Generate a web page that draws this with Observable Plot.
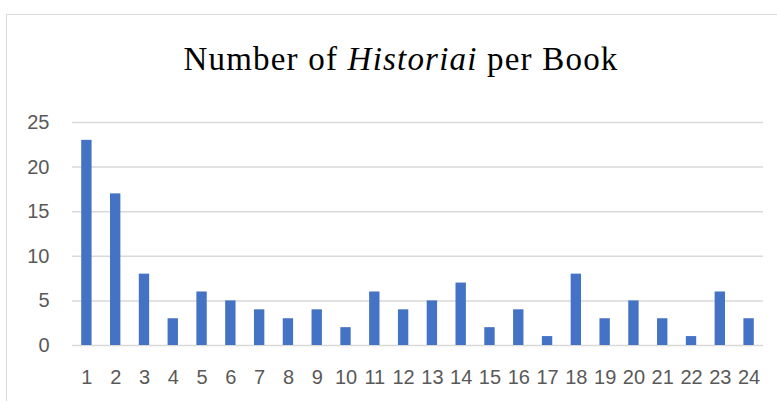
<!DOCTYPE html>
<html>
<head>
<meta charset="utf-8">
<script src="https://cdn.jsdelivr.net/npm/d3@7"></script>
<script src="https://cdn.jsdelivr.net/npm/@observablehq/plot@0.6"></script>
<style>
  html, body { margin: 0; padding: 0; background: #fff; width: 777px; height: 401px; overflow: hidden; }
  #frame { position: absolute; left: 6px; top: 14px; width: 820px; height: 420px; border: 1px solid #d9d9d9; box-sizing: border-box; }
  #title { position: absolute; left: 0; width: 802px; top: 39px; text-align: center; font-family: "Liberation Serif", serif; font-size: 33px; letter-spacing: 1.2px; line-height: 40px; color: #000; white-space: nowrap; }
  #chart { position: absolute; left: 0; top: 100px; }
</style>
</head>
<body>
<div id="frame"></div>
<div id="title">Number of <i>Historiai</i> per Book</div>
<div id="chart"></div>
<script>
const books = ["1","2","3","4","5","6","7","8","9","10","11","12","13","14","15","16","17","18","19","20","21","22","23","24"];
const counts = [23,17,8,3,6,5,4,3,4,2,6,4,5,7,2,4,1,8,3,5,3,1,6,3];
const yTicks = [0,5,10,15,20,25];

const data = books.map((b, i) => ({book: b, count: counts[i]}));

const chart = Plot.plot({
  width: 777,
  height: 301,
  marginLeft: 72,
  marginRight: 14,
  marginTop: 22,
  marginBottom: 56,
  style: {fontFamily: "'Liberation Sans', sans-serif", color: "#595959", background: "transparent", overflow: "visible"},
  x: {type: "band", domain: books, paddingInner: 0.64, paddingOuter: 0.32, align: 0.5, round: false},
  y: {domain: [0, 25]},
  marks: [
    Plot.gridY(yTicks, {stroke: "#d9d9d9", strokeOpacity: 1, strokeWidth: 1.5}),
    Plot.barY(data, {x: "book", y: "count", fill: "#4472C4"}),
    Plot.axisY(yTicks, {tickSize: 0, tickPadding: 23, label: null, fill: "#595959", fontSize: 20}),
    Plot.axisX({tickSize: 0, tickPadding: 24, label: null, fill: "#595959", fontSize: 20})
  ]
});
document.getElementById("chart").appendChild(chart);
</script>
</body>
</html>
